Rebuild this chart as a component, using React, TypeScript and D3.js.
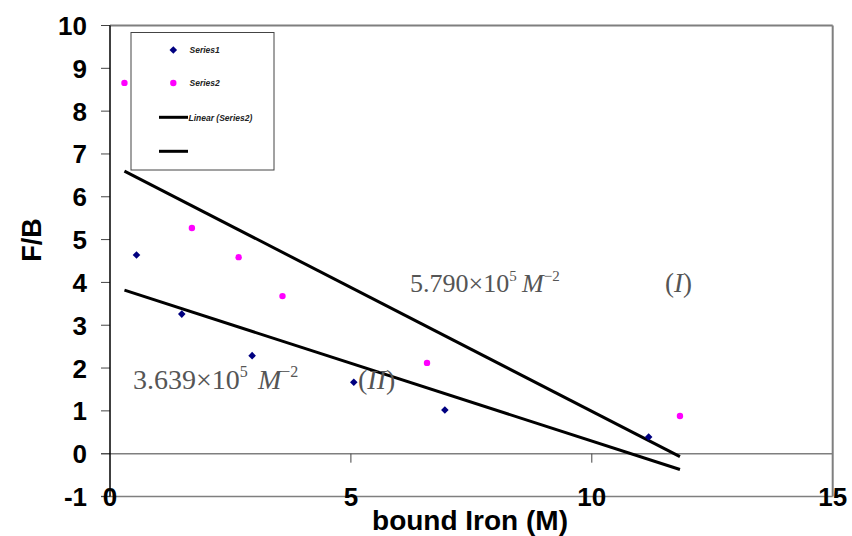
import React from "react";
import * as d3 from "d3";

const series1X = [0.55, 1.49, 2.95, 5.06, 6.95, 11.18];
const series1Y = [4.64, 3.26, 2.29, 1.67, 1.02, 0.39];
const series2X = [0.30, 1.70, 2.67, 3.58, 6.58, 11.83];
const series2Y = [8.66, 5.27, 4.59, 3.68, 2.12, 0.88];
const fitX = [0.30, 11.83];
const fitI = [6.60, -0.07];
const fitII = [3.82, -0.37];
const xTicks = [0, 5, 10, 15];
const yTicks = [-1, 0, 1, 2, 3, 4, 5, 6, 7, 8, 9, 10];
const legendLabels = ["Series1", "Series2", "Linear (Series2)", ""];

const W = 852;
const H = 536;
const SANS = "'Liberation Sans', Arial, sans-serif";
const SERIF = "'Liberation Serif', 'Times New Roman', serif";

export default function App() {
  const x = d3.scaleLinear().domain([0, 15]).range([110, 832.7]);
  const y = d3.scaleLinear().domain([-1, 10]).range([496.5, 25.5]);
  const line = d3
    .line<[number, number]>()
    .x((d) => x(d[0]))
    .y((d) => y(d[1]));
  const diamond = "M0,-3.8L3.8,0L0,3.8L-3.8,0Z";
  const lineI: [number, number][] = fitX.map((v, i) => [v, fitI[i]]);
  const lineII: [number, number][] = fitX.map((v, i) => [v, fitII[i]]);
  const axisGray = "#7f7f7f";
  const textGray = "#555555";

  return (
    <svg
      width={W}
      height={H}
      style={{ position: "absolute", left: 0, top: 0, background: "#fff" }}
    >
      <rect x={0} y={0} width={W} height={H} fill="#fff" />
      {/* frame */}
      <line x1={110} x2={x(15)} y1={y(10)} y2={y(10)} stroke={axisGray} strokeWidth={2} />
      <line x1={x(15)} x2={x(15)} y1={y(10)} y2={y(-1)} stroke={axisGray} strokeWidth={2} />
      <line x1={101} x2={x(15)} y1={y(-1)} y2={y(-1)} stroke={axisGray} strokeWidth={1.5} />
      <line x1={101} x2={x(15)} y1={y(0)} y2={y(0)} stroke={axisGray} strokeWidth={1.5} />
      {/* y ticks */}
      {yTicks.map((t) => (
        <line key={"yt" + t} x1={101} x2={110} y1={y(t)} y2={y(t)} stroke="#444" strokeWidth={1} />
      ))}
      {/* x ticks on zero line */}
      {xTicks
        .filter((t) => t > 0 && t < 15)
        .map((t) => (
          <line key={"xt" + t} x1={x(t)} x2={x(t)} y1={y(0)} y2={y(0) + 9} stroke="#444" strokeWidth={1} />
        ))}
      {/* y axis */}
      <line x1={110} x2={110} y1={y(10)} y2={y(-1)} stroke="#000" strokeWidth={1.5} />

      {/* trend lines */}
      <path d={line(lineI) || ""} stroke="#000" strokeWidth={3} fill="none" />
      <path d={line(lineII) || ""} stroke="#000" strokeWidth={3} fill="none" />

      {/* points */}
      {series1X.map((v, i) => (
        <path key={"s1" + i} d={diamond} transform={`translate(${x(v)},${y(series1Y[i])})`} fill="#000080" />
      ))}
      {series2X.map((v, i) => (
        <circle key={"s2" + i} cx={x(v)} cy={y(series2Y[i])} r={3.2} fill="#ff00ff" />
      ))}

      {/* y tick labels */}
      {yTicks.map((t) => (
        <text
          key={"yl" + t}
          x={87}
          y={y(t) + 9.5}
          textAnchor="end"
          fontFamily={SANS}
          fontWeight="bold"
          fontSize={26}
          fill="#000"
        >
          {t}
        </text>
      ))}
      {/* x tick labels */}
      {xTicks.map((t) => (
        <text
          key={"xl" + t}
          x={x(t)}
          y={y(-1) + 9.5}
          textAnchor="middle"
          fontFamily={SANS}
          fontWeight="bold"
          fontSize={26}
          fill="#000"
        >
          {t}
        </text>
      ))}
      {/* axis titles */}
      <text
        x={470}
        y={530}
        textAnchor="middle"
        fontFamily={SANS}
        fontWeight="bold"
        fontSize={28}
        fill="#000"
      >
        bound Iron (M)
      </text>
      <text
        transform="translate(41,240) rotate(-90)"
        textAnchor="middle"
        fontFamily={SANS}
        fontWeight="bold"
        fontSize={27}
        fill="#000"
      >
        F/B
      </text>

      {/* legend */}
      <rect x={131} y={32.5} width={143} height={137.5} fill="#fff" stroke="#444" strokeWidth={1} />
      <path d={diamond} transform="translate(173.3,50)" fill="#000080" />
      <circle cx={173.3} cy={83} r={3.2} fill="#ff00ff" />
      <line x1={159} x2={188} y1={117.3} y2={117.3} stroke="#000" strokeWidth={3} />
      <line x1={159} x2={188} y1={151.3} y2={151.3} stroke="#000" strokeWidth={3} />
      {legendLabels.map((l, i) => (
        <text
          key={"lg" + i}
          x={i < 2 ? 189.5 : 188.5}
          y={[53, 86, 120.5, 154][i]}
          fontFamily={SANS}
          fontWeight="bold"
          fontStyle="italic"
          fontSize={8.5}
          fill="#222"
        >
          {l}
        </text>
      ))}

      {/* annotation I */}
      <g fill={textGray} fontFamily={SERIF}>
        <text x={410} y={291.5} fontSize={26}>
          5.790×10
          <tspan fontSize={15} dy={-11}>5</tspan>
        </text>
        <text x={522} y={291.5} fontSize={26}>
          <tspan fontStyle="italic">M</tspan>
          <tspan fontSize={15} dy={-11}>−2</tspan>
        </text>
        <text x={665} y={291.5} fontSize={27}>
          (<tspan fontStyle="italic">I</tspan>)
        </text>
      </g>
      {/* annotation II */}
      <g fill={textGray} fontFamily={SERIF}>
        <text x={133} y={388.5} fontSize={28}>
          3.639×10
          <tspan fontSize={16} dy={-12}>5</tspan>
        </text>
        <text x={258} y={388.5} fontSize={28}>
          <tspan fontStyle="italic">M</tspan>
          <tspan fontSize={16} dy={-12}>−2</tspan>
        </text>
        <text x={358} y={388.5} fontSize={28}>
          (<tspan fontStyle="italic">II</tspan>)
        </text>
      </g>
    </svg>
  );
}
